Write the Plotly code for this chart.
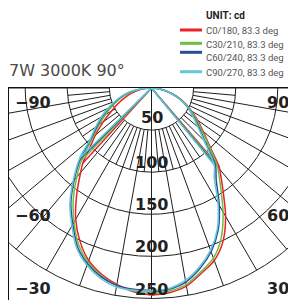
import math
import plotly.graph_objects as go

# ---------------- data ----------------
series_names = ["C0/180, 83.3 deg", "C30/210, 83.3 deg", "C60/240, 83.3 deg", "C90/270, 83.3 deg"]
series_colors = ["#ec2127", "#6cbe45", "#2c4b9b", "#63c7d8"]

# right half planes: C0, C30, C60, C90  (gamma in degrees, intensity in cd)
# a 0 cd sample marks the narrow notch that shows as a radial stroke to the pole
gamma_c0 = [0, 5, 10, 15, 20, 25, 30, 35, 40, 40.7, 40.7, 40.7, 45, 50, 55, 60, 65, 70, 75, 80, 85, 90]
cd_c0 = [246, 244, 239, 228, 218, 201, 176, 148, 126, 123, 0, 123, 98, 80, 67, 55, 45, 35, 25, 16, 8, 0]
gamma_c30 = [0, 5, 10, 15, 20, 25, 30, 35, 40.2, 40.2, 40.2, 45, 50, 55, 60, 65, 70, 75, 80, 85, 90]
cd_c30 = [244, 242, 237, 226, 215, 196, 170, 143, 121, 0, 121, 96, 78, 65, 54, 44, 34, 24, 15, 7, 0]
gamma_c60 = [0, 5, 10, 15, 20, 25, 30, 35, 39.6, 39.6, 39.6, 45, 50, 55, 60, 65, 70, 75, 80, 85, 90]
cd_c60 = [242, 240, 234, 222, 207, 187, 161, 134, 119, 0, 119, 90, 74, 62, 52, 43, 33, 23, 14, 6, 0]
gamma_c90 = [0, 5, 10, 15, 20, 25, 30, 35, 39.2, 39.2, 39.2, 45, 50, 55, 60, 65, 70, 75, 80, 85, 90]
cd_c90 = [241, 239, 232, 220, 205, 185, 158, 130, 118, 0, 118, 88, 72, 61, 52, 43, 33, 23, 14, 6, 0]

# left half planes: C180, C210, C240, C270
gamma_c180 = [0, 5, 10, 15, 20, 25, 30, 35, 40, 42.4, 42.4, 42.4, 45, 50, 55, 60, 65, 70, 75, 80, 85, 90]
cd_c180 = [246, 243, 237, 229, 218, 201, 180, 155, 131, 121, 0, 121, 106, 87, 70, 55, 44, 34, 25, 17, 8, 0]
gamma_c210 = [0, 5, 10, 15, 20, 25, 30, 35, 40, 44, 44, 44, 50, 55, 60, 65, 70, 75, 80, 85, 90]
cd_c210 = [243, 242, 238, 231, 220, 205, 184, 162, 138, 120, 0, 120, 91, 76, 63, 52, 42, 32, 22, 11, 0]
gamma_c240 = [0, 5, 10, 15, 20, 25, 30, 35, 40, 45.2, 45.2, 45.2, 50, 55, 60, 65, 70, 75, 80, 85, 90]
cd_c240 = [241, 240, 238, 232, 222, 208, 187, 167, 143, 119, 0, 119, 94, 79, 67, 56, 45, 35, 25, 12, 0]
gamma_c270 = [0, 5, 10, 15, 20, 25, 30, 35, 40, 45.7, 45.7, 45.7, 50, 55, 60, 65, 70, 75, 80, 85, 90]
cd_c270 = [241, 241, 240, 234, 224, 210, 189, 169, 145, 119, 0, 119, 95, 81, 69, 57, 46, 36, 26, 13, 0]

right_gammas = [gamma_c0, gamma_c30, gamma_c60, gamma_c90]
right_cds = [cd_c0, cd_c30, cd_c60, cd_c90]
left_gammas = [gamma_c180, gamma_c210, gamma_c240, gamma_c270]
left_cds = [cd_c180, cd_c210, cd_c240, cd_c270]

ring_values = [50, 100, 150, 200, 250]
ring_labels = ["50", "100", "150", "200", "250"]
spoke_angles = [0, 10, 20, 30, 40, 50, 60, 70, 80, 90]
fine_spoke_angles = [5, 15, 25, 35, 45, 55, 65, 75, 85]
edge_labels_left = ["\u221290", "\u221260", "\u221230"]
edge_labels_right = ["90", "60", "30"]
title_text = "7W 3000K 90\u00b0"
unit_text = "UNIT: cd"

# ---------------- layout geometry ----------------
# The page body has an 8px margin, so figure pixel = page pixel - 8.
BODY = 8
W, H = 288, 292
ML, MR, MT, MB = 1, 3, 80, 0
PW, PH = W - ML - MR, H - MT - MB
PX = 0.842                      # pixels per cd
CX = 151.5 - BODY               # figure pixel x of the pole
x_range = [-(CX - ML) / PX, (W - MR - CX) / PX]
y_range = [-PH / PX, 0]


def px2paper_x(page_x):
    return (page_x - BODY - ML) / PW


def px2paper_y(page_y):
    return (H - MB - (page_y - BODY)) / PH


GRID = "#1e1e1e"
TXT = "#222222"

fig = go.Figure()

# rings
gx, gy = [], []
for r in ring_values:
    for k in range(0, 361):
        a = math.radians(k * 0.5)
        gx.append(r * math.cos(a))
        gy.append(-r * math.sin(a))
    gx.append(None)
    gy.append(None)
fig.add_trace(go.Scatter(x=gx, y=gy, mode="lines", line=dict(color=GRID, width=1),
                         hoverinfo="skip", showlegend=False))

# spokes
sx, sy = [], []
r_in, r_out = ring_values[0], ring_values[-1]
for a in spoke_angles:
    for s in (1, -1):
        t = math.radians(a)
        start = 0 if a == 0 else r_in
        sx += [s * start * math.sin(t), s * r_out * math.sin(t), None]
        sy += [-start * math.cos(t), -r_out * math.cos(t), None]
for a in fine_spoke_angles:
    for s in (1, -1):
        t = math.radians(a)
        sx += [s * r_in * math.sin(t), s * ring_values[1] * math.sin(t), None]
        sy += [-r_in * math.cos(t), -ring_values[1] * math.cos(t), None]
fig.add_trace(go.Scatter(x=sx, y=sy, mode="lines", line=dict(color=GRID, width=1),
                         hoverinfo="skip", showlegend=False))


def split_half(gammas, cds, side):
    """Return (outline points, notch segments) for one half plane."""
    pts, notch = [], []
    n = len(gammas)
    for k in range(n):
        g, i = gammas[k], cds[k]
        t = math.radians(g)
        if i == 0 and 0 < k < n - 1:
            # radial stroke from the pole out to the neighbouring sample
            j = cds[k - 1]
            notch += [0, side * j * math.sin(t), None], [0, -j * math.cos(t), None]
            continue
        if k > 0 and gammas[k - 1] == g and cds[k - 1] == i:
            continue
        if k > 1 and gammas[k - 2] == g and cds[k - 1] == 0 and cds[k - 2] == i:
            continue
        pts.append((side * i * math.sin(t), -i * math.cos(t)))
    return pts, notch


# intensity curves
for name, col, gl, il, gr, ir in zip(series_names, series_colors, left_gammas, left_cds,
                                     right_gammas, right_cds):
    lp, ln = split_half(gl, il, -1)
    rp, rn = split_half(gr, ir, 1)
    pts = list(reversed(lp)) + rp
    fig.add_trace(go.Scatter(x=[p[0] for p in pts], y=[p[1] for p in pts], mode="lines",
                             name=name, line=dict(color=col, width=1.5, shape="spline",
                                                  smoothing=0.8),
                             showlegend=False, hoverinfo="skip"))
    nx, ny = [], []
    for seg in (ln, rn):
        if seg:
            nx += seg[0]
            ny += seg[1]
    fig.add_trace(go.Scatter(x=nx, y=ny, mode="lines", line=dict(color=col, width=1.5),
                             showlegend=False, hoverinfo="skip"))

LABEL_FONT = dict(family="DejaVu Sans", size=16, color=TXT, weight="bold")
annotations = []
# ring labels
for k, (r, lab) in enumerate(zip(ring_values, ring_labels)):
    annotations.append(dict(x=0, y=-r, xref="x", yref="y", text=lab, showarrow=False,
                            xanchor="center", yanchor="middle", yshift=13 if k == 0 else 9.5,
                            font=LABEL_FONT))
# edge angle labels
edge_rows = [102, 215, 288]
for lab, py in zip(edge_labels_left, edge_rows):
    annotations.append(dict(x=px2paper_x(13), y=px2paper_y(py), xref="paper", yref="paper",
                            text=lab, showarrow=False, xanchor="left", yanchor="middle",
                            font=LABEL_FONT))
for lab, py in zip(edge_labels_right, edge_rows):
    annotations.append(dict(x=px2paper_x(291), y=px2paper_y(py), xref="paper", yref="paper",
                            text=lab, showarrow=False, xanchor="right", yanchor="middle",
                            font=LABEL_FONT))
# title
annotations.append(dict(x=px2paper_x(7), y=px2paper_y(71), xref="paper", yref="paper",
                        text=title_text, showarrow=False, xanchor="left", yanchor="middle",
                        font=dict(family="DejaVu Sans", size=16, color="#4a4a4a")))
# manual legend
annotations.append(dict(x=px2paper_x(204), y=px2paper_y(15.7), xref="paper", yref="paper",
                        text=unit_text, showarrow=False, xanchor="left", yanchor="middle",
                        font=dict(family="Roboto", size=10, color="#222222", weight="bold")))
text_rows = [30.7, 44, 58, 72]
line_rows = [30, 43.3, 52.3, 71.7]
shapes = []
for name, col, ty, ly in zip(series_names, series_colors, text_rows, line_rows):
    annotations.append(dict(x=px2paper_x(204), y=px2paper_y(ty), xref="paper", yref="paper",
                            text=name, showarrow=False, xanchor="left", yanchor="middle",
                            font=dict(family="Roboto", size=9.5, color="#555555")))
    shapes.append(dict(type="line", xref="paper", yref="paper",
                       x0=px2paper_x(180), x1=px2paper_x(202),
                       y0=px2paper_y(ly), y1=px2paper_y(ly),
                       line=dict(color=col, width=3)))

fig.update_layout(
    width=W, height=H,
    margin=dict(l=ML, r=MR, t=MT, b=MB, pad=0),
    paper_bgcolor="white", plot_bgcolor="white",
    xaxis=dict(range=x_range, showgrid=False, zeroline=False, showticklabels=False, ticks="",
               showline=True, linecolor="#111111", linewidth=1, side="top", fixedrange=True),
    yaxis=dict(range=y_range, showgrid=False, zeroline=False, showticklabels=False, ticks="",
               showline=True, mirror=True, linecolor="#111111", linewidth=1, fixedrange=True),
    annotations=annotations,
    shapes=shapes,
    hovermode=False,
    showlegend=False,
)

fig.write_html("out.html")
